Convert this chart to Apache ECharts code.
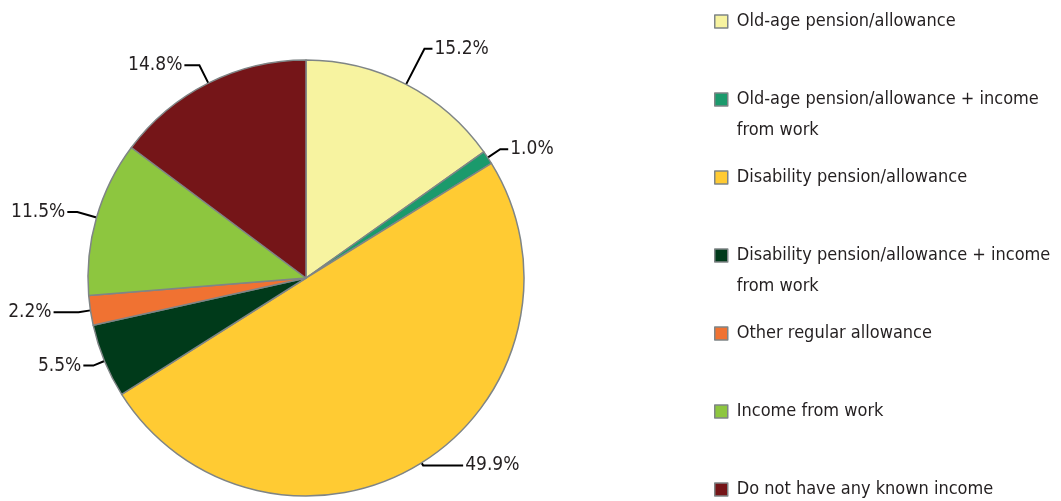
<!DOCTYPE html>
<html>
<head>
<meta charset="utf-8">
<script src="https://cdn.jsdelivr.net/npm/echarts@6/dist/echarts.min.js"></script>
<style>
html, body { margin: 0; padding: 0; background: #fff; }
#chart { width: 1061px; height: 501px; }
</style>
</head>
<body>
<div id="chart"></div>
<script>
var categories = [
	'Old-age pension/allowance',
	'Old-age pension/allowance + income from work',
	'Disability pension/allowance',
	'Disability pension/allowance + income from work',
	'Other regular allowance',
	'Income from work',
	'Do not have any known income'
];
var shares = [15.2, 1.0, 49.9, 5.5, 2.2, 11.5, 14.8];
var colors = ['#F7F3A0', '#1B9A6C', '#FFCB33', '#003A1A', '#F07232', '#8DC63F', '#751518'];
// label line lengths per slice [radial, horizontal]
var lineLengths = [[40, 8], [15, 8], [3, 40], [12, 10], [12, 25], [20, 10], [20, 15]];

// legend text with line breaks where the original wraps
var legendText = {
	'Old-age pension/allowance + income from work': 'Old-age pension/allowance + income\nfrom work',
	'Disability pension/allowance + income from work': 'Disability pension/allowance + income\nfrom work'
};

var fontName = '"Liberation Sans Narrow", "DejaVu Sans Condensed", sans-serif';

var chart = echarts.init(document.getElementById('chart'));

var pieData = [];
for (var i = 0; i < categories.length; i++) {
	pieData.push({
		name: categories[i],
		value: shares[i],
		labelLine: {length: lineLengths[i][0], length2: lineLengths[i][1]}
	});
}

var option = {
	animation: false,
	color: colors,
	legend: {
		orient: 'vertical',
		left: 714,
		top: -25,
		height: 800,
		padding: 0,
		itemGap: -15,
		itemWidth: 13,
		itemHeight: 13,
		icon: 'rect',
		selectedMode: false,
		itemStyle: {borderColor: '#7f8586', borderWidth: 1.5},
		textStyle: {
			fontFamily: fontName,
			fontSize: 18,
			color: '#231f20',
			lineHeight: 31,
			padding: [0, 0, 0, 4]
		},
		// blank first line so the icon sits level with the first text line
		formatter: function(name){
			return ' \n' + (legendText[name] || (name + '\n '));
		},
		data: categories
	},
	series: [{
		type: 'pie',
		center: [306, 278],
		radius: 218,
		startAngle: 90,
		clockwise: true,
		data: pieData,
		itemStyle: {borderColor: '#7f8586', borderWidth: 1.5},
		label: {
			show: true,
			formatter: function(p){ return p.value.toFixed(1) + '%'; },
			fontFamily: fontName,
			fontSize: 19,
			color: '#231f20',
			overflow: 'none',
			distanceToLabelLine: 2
		},
		labelLine: {
			show: true,
			lineStyle: {color: '#000', width: 2}
		}
	}]
};

chart.setOption(option);
</script>
</body>
</html>
